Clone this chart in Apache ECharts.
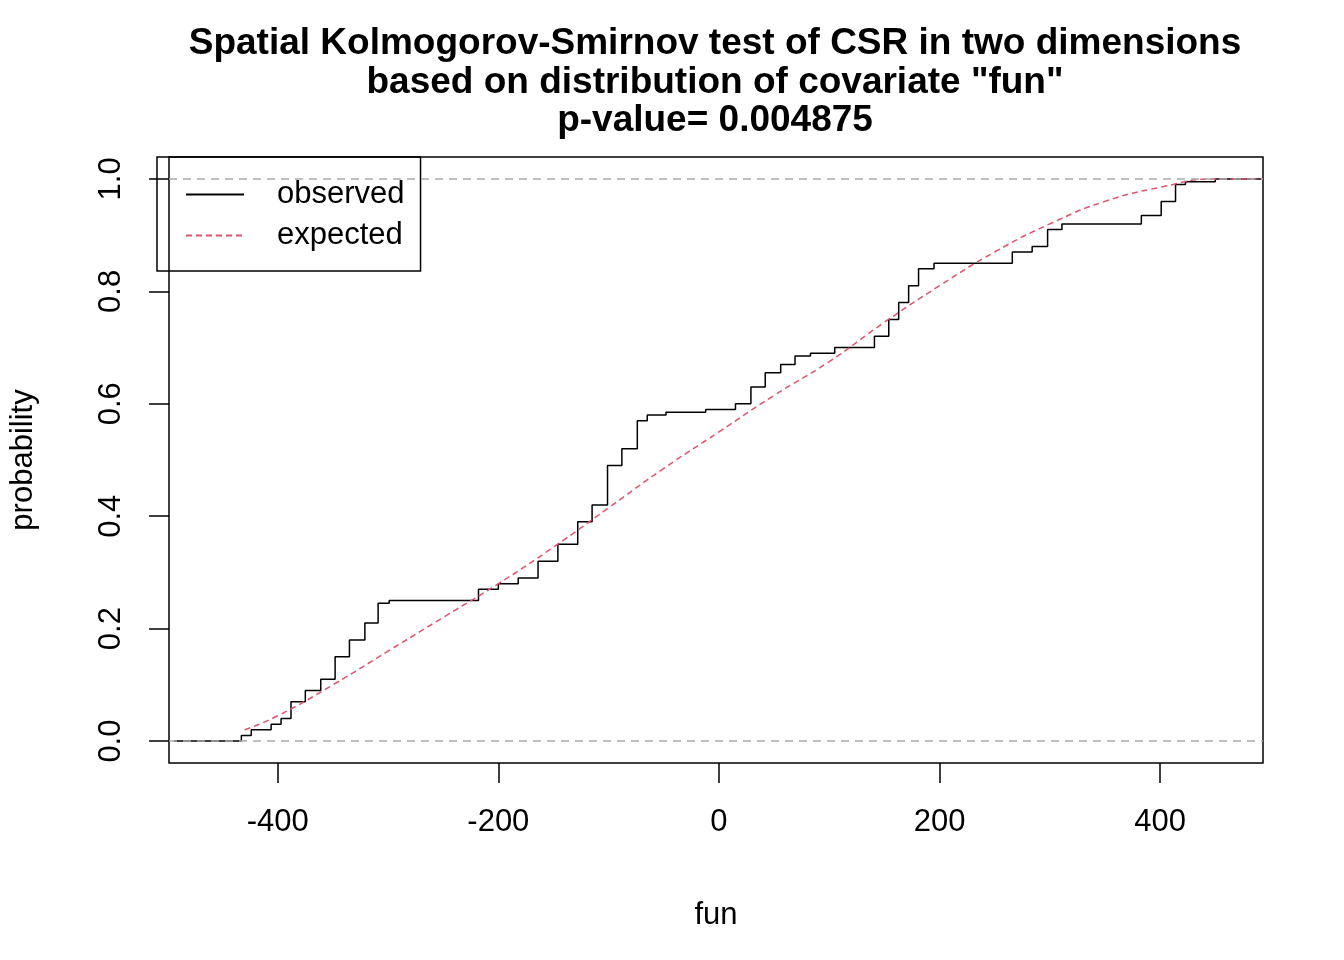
<!DOCTYPE html>
<html><head><meta charset="utf-8">
<script src="https://cdn.jsdelivr.net/npm/echarts@6/dist/echarts.min.js"></script>
<style>html,body{margin:0;background:#fff}#c{width:1344px;height:960px}</style>
</head><body><div id="c"></div>
<script>
// observed ECDF (step points)
var obsX = [-494,-454,-433,-424,-406,-397,-388,-375,-361,-348,-335,-321,-309,-299,-227,-218,-200,-182,-164,-146,-128,-115,-101,-88,-74,-65,-48,-12,4,15,29,42,56,69,83,105,127,141,154,163,172,181,195,248,266,284,298,311,372,383,401,414,423,446,450,493];
var obsY = [0,0,0.01,0.02,0.03,0.04,0.07,0.09,0.11,0.15,0.18,0.21,0.245,0.25,0.25,0.27,0.28,0.29,0.32,0.35,0.39,0.42,0.49,0.52,0.57,0.58,0.585,0.59,0.59,0.6,0.63,0.655,0.67,0.685,0.69,0.7,0.7,0.72,0.75,0.78,0.81,0.84,0.85,0.85,0.87,0.88,0.91,0.92,0.92,0.935,0.96,0.99,0.995,0.995,1,1];
var expX = [-430,-400,-350,-300,-250,-200,-150,-100,-50,0,50,100,150,200,250,300,350,400,450,493];
var expY = [0.02,0.045,0.1,0.16,0.22,0.28,0.345,0.415,0.485,0.55,0.615,0.675,0.745,0.81,0.87,0.92,0.96,0.985,1,1];
var xTicks = [-400,-200,0,200,400];
var yTicks = [0,0.2,0.4,0.6,0.8,1];

function pairs(a,b){return a.map(function(v,i){return [v,b[i]];});}
var font = 'Liberation Sans, Arial, sans-serif';
var chart = echarts.init(document.getElementById('c'));
chart.setOption({
  animation:false,
  title:{text:'Spatial Kolmogorov-Smirnov test of CSR in two dimensions\nbased on distribution of covariate "fun"\np-value= 0.004875',
    left:710, top:20, textAlign:'center',
    textStyle:{fontFamily:font,fontSize:37,fontWeight:'bold',color:'#000',lineHeight:38.5}},
  grid:{left:157,right:81,top:157,bottom:197,show:true,borderColor:'#000',borderWidth:1.5},
  legend:{left:157,top:157,orient:'vertical',borderColor:'#000',borderWidth:1.5,padding:[22,16,20,28],
    itemWidth:58,itemHeight:14,itemGap:10,data:['observed','expected'],itemStyle:{opacity:0},
    textStyle:{fontFamily:font,fontSize:31,color:'#000',padding:[0,0,0,28]}},
  xAxis:{type:'value',min:-498.6,max:493.3,name:'fun',nameLocation:'middle',nameGap:137,
    nameTextStyle:{fontFamily:font,fontSize:31,color:'#000'},
    axisLine:{show:false,onZero:false},splitLine:{show:false},
    axisTick:{show:true,inside:false,length:20,customValues:xTicks,lineStyle:{color:'#000',width:1.5}},
    axisLabel:{customValues:xTicks,margin:44,fontFamily:font,fontSize:31,color:'#000'}},
  yAxis:{type:'value',min:-0.039,max:1.039,name:'probability',nameLocation:'middle',nameGap:130,
    nameTextStyle:{fontFamily:font,fontSize:31,color:'#000'},
    axisLine:{show:false,onZero:false},splitLine:{show:false},
    axisTick:{show:true,length:20,customValues:yTicks,lineStyle:{color:'#000',width:1.5}},
    axisLabel:{customValues:yTicks,rotate:90,margin:42,fontFamily:font,fontSize:31,color:'#000',
      formatter:function(v){return v.toFixed(1);}}},
  series:[
    {name:'observed',type:'line',step:'end',symbol:'none',data:pairs(obsX,obsY),
     lineStyle:{color:'#000',width:1.5},itemStyle:{color:'#000'},
     markLine:{silent:true,symbol:'none',label:{show:false},
       lineStyle:{color:'#aaa',type:[8,6],width:1.5},data:[{yAxis:0},{yAxis:1}]}},
    {name:'expected',type:'line',smooth:true,symbol:'none',data:pairs(expX,expY),
     lineStyle:{color:'#DF536B',width:1.5,type:[6,4]},itemStyle:{color:'#DF536B'}}
  ]
});
</script></body></html>
